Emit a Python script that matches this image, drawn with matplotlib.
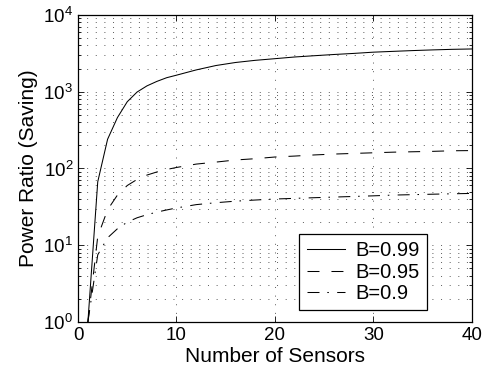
import matplotlib
matplotlib.use("Agg")
import matplotlib.pyplot as plt
from matplotlib.ticker import LogLocator, NullFormatter, FixedLocator

plt.rcParams["font.family"] = ["Liberation Sans", "DejaVu Sans"]
plt.rcParams["mathtext.default"] = "regular"

# values
sensors = [1, 2, 3, 4, 5, 6, 7, 8, 9, 10, 12, 14, 16, 18, 20,
           22, 24, 26, 28, 30, 32, 34, 36, 38, 40]
ratio_b099 = [1, 67, 240, 460, 740, 990, 1190, 1360, 1520, 1640, 1920, 2190, 2400, 2560, 2690,
              2830, 2940, 3050, 3150, 3270, 3350, 3430, 3500, 3560, 3600]
ratio_b095 = [1, 13, 29, 45, 60, 72, 82, 90, 97, 103, 114, 121, 129, 134, 141,
              145, 150, 154, 157, 160, 163, 165, 167, 170, 171]
ratio_b090 = [1, 7.5, 12.5, 16.4, 20, 22.8, 25, 27, 28.8, 30.6, 33.8, 35.8, 37.5, 38.8, 40,
              40.8, 41.6, 42.4, 43.2, 44, 45, 45.6, 46.2, 46.8, 47.3]
labels = ["B=0.99", "B=0.95", "B=0.9"]

x_ticks = [0, 10, 20, 30, 40]

fig = plt.figure(figsize=(4.94, 3.82), dpi=100)
ax = fig.add_axes([0.158, 0.157, 0.797, 0.804])

lw = 0.75
ax.plot(sensors, ratio_b099, color="black", lw=lw, label=labels[0])
ax.plot(sensors, ratio_b095, color="black", lw=lw, dashes=(11.5, 11.5), label=labels[1])
ax.plot(sensors, ratio_b090, color="black", lw=lw, dashes=(11.5, 7.5, 1.5, 8), label=labels[2])

ax.set_yscale("log")
ax.set_xlim(0, 40)
ax.set_ylim(1, 1e4)
ax.xaxis.set_major_locator(FixedLocator(x_ticks))
ax.yaxis.set_major_locator(LogLocator(base=10, numticks=10))
ax.yaxis.set_minor_locator(LogLocator(base=10, subs=range(2, 10), numticks=20))
ax.yaxis.set_minor_formatter(NullFormatter())

# matlab style dotted grid
grid_style = dict(color="#333333", linewidth=0.55, linestyle=(0, (1.3, 10)))
ax.grid(True, which="major", axis="both", **grid_style)
ax.grid(True, which="minor", axis="y", **grid_style)

ax.tick_params(which="both", direction="in", top=True, right=True, labelsize=13.5, width=0.6)
ax.tick_params(which="major", length=4)
ax.tick_params(which="minor", length=2.5)
for s in ax.spines.values():
    s.set_linewidth(0.9)

ax.set_xlabel("Number of Sensors", fontsize=15, labelpad=2)
ax.set_ylabel("Power Ratio (Saving)", fontsize=15, labelpad=4)

leg = ax.legend(loc="lower right", bbox_to_anchor=(0.887, 0.039), borderaxespad=0,
                fontsize=14.5, fancybox=False, framealpha=1, edgecolor="black",
                handlelength=1.9, handletextpad=0.55, labelspacing=0.12, borderpad=0.35)
leg.get_frame().set_linewidth(0.9)

fig.savefig("out.png", dpi=100)
